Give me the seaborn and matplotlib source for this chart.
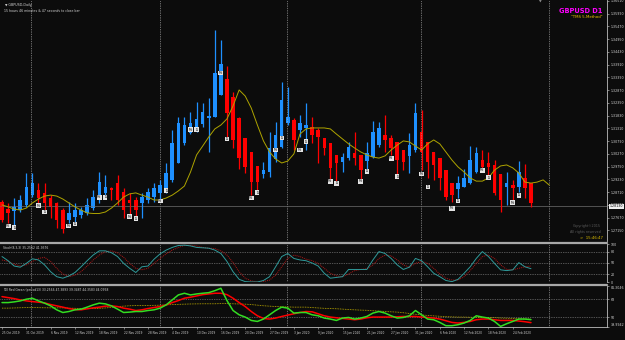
import matplotlib
matplotlib.use("Agg")
import matplotlib.pyplot as plt
import matplotlib.transforms as mtransforms
from matplotlib.lines import Line2D
import numpy as np
import pandas as pd
import seaborn as sns

# daily bars on the chart (broker has no bar on 25 Dec and 1 Jan)
dates = pd.bdate_range("2019-10-25", "2020-02-27")
dates = dates[~dates.isin(pd.to_datetime(["2019-12-25", "2020-01-01"]))]

# Heiken Ashi candles
ha_open = [1.2831, 1.2802, 1.2794, 1.2798, 1.2819, 1.2859, 1.2880, 1.2868, 1.2847, 1.2827,
           1.2798, 1.2757, 1.2770, 1.2778, 1.2786, 1.2806, 1.2859, 1.2868, 1.2888, 1.2908,
           1.2872, 1.2839, 1.2839, 1.2827, 1.2839, 1.2851, 1.2868, 1.2884, 1.2921, 1.2990,
           1.3072, 1.3112, 1.3125, 1.3149, 1.3174, 1.3178, 1.3267, 1.3333, 1.3259, 1.3174,
           1.3092, 1.3035, 1.2978, 1.2945, 1.2953, 1.3006, 1.3055, 1.3153, 1.3166, 1.3125,
           1.3133, 1.3137, 1.3125, 1.3092, 1.3072, 1.3023, 1.2994, 1.3010, 1.3031, 1.3023,
           1.2998, 1.3014, 1.3063, 1.3104, 1.3092, 1.3076, 1.3043, 1.3019, 1.3043, 1.3116,
           1.3076, 1.3035, 1.3010, 1.2961, 1.2908, 1.2884, 1.2892, 1.2908, 1.2953, 1.3002,
           1.2990, 1.2982, 1.2945, 1.2892, 1.2900, 1.2892, 1.2929, 1.2908]
ha_close = [1.2757, 1.2786, 1.2811, 1.2839, 1.2892, 1.2908, 1.2847, 1.2827, 1.2811, 1.2757,
            1.2721, 1.2786, 1.2798, 1.2798, 1.2819, 1.2851, 1.2912, 1.2892, 1.2880, 1.2839,
            1.2798, 1.2827, 1.2798, 1.2851, 1.2872, 1.2888, 1.2900, 1.2949, 1.3072, 1.3153,
            1.3145, 1.3153, 1.3170, 1.3198, 1.3182, 1.3357, 1.3394, 1.3194, 1.3084, 1.3010,
            1.2974, 1.2912, 1.2912, 1.2961, 1.3051, 1.3104, 1.3247, 1.3178, 1.3084, 1.3153,
            1.3145, 1.3104, 1.3096, 1.3051, 1.2970, 1.2990, 1.3014, 1.3055, 1.3010, 1.2961,
            1.3031, 1.3116, 1.3133, 1.3084, 1.3051, 1.3002, 1.2994, 1.3063, 1.3194, 1.3035,
            1.2994, 1.2982, 1.2929, 1.2851, 1.2859, 1.2908, 1.2929, 1.3002, 1.3031, 1.2974,
            1.2974, 1.2868, 1.2839, 1.2908, 1.2888, 1.2953, 1.2888, 1.2827]
ha_high = [1.2839, 1.2827, 1.2847, 1.2859, 1.2949, 1.2949, 1.2908, 1.2908, 1.2859, 1.2831,
           1.2806, 1.2831, 1.2827, 1.2811, 1.2847, 1.2880, 1.2953, 1.2941, 1.2892, 1.2941,
           1.2888, 1.2868, 1.2851, 1.2868, 1.2888, 1.2908, 1.2921, 1.2990, 1.3125, 1.3178,
           1.3178, 1.3198, 1.3239, 1.3235, 1.3255, 1.3533, 1.3492, 1.3386, 1.3280, 1.3178,
           1.3092, 1.3035, 1.2978, 1.2994, 1.3116, 1.3157, 1.3320, 1.3300, 1.3174, 1.3186,
           1.3235, 1.3178, 1.3133, 1.3092, 1.3072, 1.3023, 1.3031, 1.3076, 1.3116, 1.3023,
           1.3076, 1.3161, 1.3157, 1.3186, 1.3104, 1.3076, 1.3043, 1.3112, 1.3235, 1.3206,
           1.3076, 1.3035, 1.3010, 1.2961, 1.2908, 1.2937, 1.2966, 1.3059, 1.3055, 1.3043,
           1.3035, 1.3002, 1.2945, 1.2953, 1.2921, 1.2998, 1.2986, 1.2908]
ha_low = [1.2749, 1.2745, 1.2737, 1.2790, 1.2811, 1.2851, 1.2819, 1.2798, 1.2766, 1.2725,
          1.2704, 1.2745, 1.2745, 1.2766, 1.2778, 1.2798, 1.2827, 1.2859, 1.2839, 1.2819,
          1.2766, 1.2770, 1.2770, 1.2766, 1.2827, 1.2831, 1.2839, 1.2868, 1.2912, 1.2990,
          1.3063, 1.3108, 1.3116, 1.3137, 1.3035, 1.3178, 1.3267, 1.3096, 1.3051, 1.2966,
          1.2949, 1.2859, 1.2880, 1.2929, 1.2933, 1.2994, 1.3051, 1.3145, 1.3043, 1.3096,
          1.3043, 1.3072, 1.2990, 1.3023, 1.2921, 1.2912, 1.2953, 1.3002, 1.2982, 1.2921,
          1.2961, 1.3010, 1.3055, 1.3035, 1.3023, 1.2941, 1.2961, 1.2949, 1.3035, 1.2961,
          1.2929, 1.2921, 1.2880, 1.2839, 1.2831, 1.2847, 1.2892, 1.2904, 1.2949, 1.2961,
          1.2933, 1.2859, 1.2790, 1.2819, 1.2831, 1.2872, 1.2847, 1.2811]

# shifted moving average (runs a few bars past the last candle)
ma_line = [1.2819, 1.2811, 1.2802, 1.2798, 1.2806, 1.2827, 1.2843, 1.2855, 1.2859, 1.2855,
           1.2843, 1.2827, 1.2811, 1.2798, 1.2786, 1.2784, 1.2784, 1.2790, 1.2806, 1.2827,
           1.2851, 1.2864, 1.2868, 1.2859, 1.2851, 1.2839, 1.2839, 1.2847, 1.2859, 1.2876,
           1.2896, 1.2953, 1.3023, 1.3059, 1.3096, 1.3129, 1.3145, 1.3170, 1.3223, 1.3288,
           1.3263, 1.3214, 1.3145, 1.3080, 1.3035, 1.3006, 1.2990, 1.2998, 1.3027, 1.3108,
           1.3129, 1.3133, 1.3133, 1.3133, 1.3129, 1.3108, 1.3088, 1.3068, 1.3051, 1.3035,
           1.3023, 1.3014, 1.3010, 1.3019, 1.3043, 1.3063, 1.3080, 1.3076, 1.3059, 1.3043,
           1.3068, 1.3084, 1.3068, 1.3035, 1.3002, 1.2974, 1.2953, 1.2929, 1.2916, 1.2916,
           1.2929, 1.2961, 1.2978, 1.2982, 1.2970, 1.2949, 1.2912, 1.2908, 1.2912, 1.2921,
           1.2900]

# Monday / Tuesday markers under the candles
day_idx = [1, 2, 6, 7, 11, 12, 16, 17, 21, 22, 26, 27, 31, 32, 36, 37, 41, 42,
           45, 46, 49, 50, 54, 55, 59, 60, 64, 65, 69, 70, 74, 75, 79, 80, 84, 85]
day_txt = ["Mo", "Tu"] * 18
day_price = [1.2733, 1.2725, 1.2815, 1.2790, 1.2733, 1.2741, 1.2851, 1.2851, 1.2770, 1.2762,
             1.2835, 1.2876, 1.3125, 1.3125, 1.3357, 1.3088, 1.2847, 1.2868,
             1.3043, 1.3092, 1.3043, 1.3076, 1.2916, 1.2908, 1.2916, 1.2957, 1.3010, 1.2933,
             1.2945, 1.2892, 1.2806, 1.2835, 1.2961, 1.2929, 1.2827, 1.2859]

price_ticks = [1.36510, 1.35990, 1.35470, 1.34950, 1.34430, 1.33910, 1.33390, 1.32870,
               1.32350, 1.31830, 1.31310, 1.30790, 1.30270, 1.29750, 1.29230, 1.28710,
               1.28190, 1.27670, 1.27150]
bid = 1.28130

stoch_main = [67, 56, 42, 39, 49, 61, 58, 45, 27, 14,
              10, 16, 25, 40, 56, 71, 82, 82, 77, 67,
              49, 36, 25, 40, 42, 60, 74, 84, 91, 96,
              97, 95, 91, 90, 89, 84, 75, 54, 27, 7,
              1, 0, 0, 4, 14, 40, 67, 75, 62, 58,
              56, 50, 42, 23, 10, 12, 14, 33, 33, 33,
              33, 58, 80, 75, 62, 45, 33, 39, 62, 56,
              40, 23, 14, 4, 1, 7, 23, 40, 62, 80,
              67, 49, 32, 30, 32, 51, 40, 35]
stoch_signal = [58, 54, 47, 42, 45, 54, 62, 65, 54, 36,
                21, 14, 18, 27, 42, 58, 71, 80, 82, 77,
                65, 49, 36, 32, 36, 49, 62, 74, 84, 91,
                96, 96, 95, 91, 89, 88, 82, 71, 51, 27,
                10, 3, 0, 1, 5, 18, 40, 62, 71, 67,
                60, 56, 49, 36, 23, 16, 14, 21, 30, 33,
                35, 45, 62, 71, 69, 58, 45, 39, 49, 54,
                49, 36, 21, 10, 5, 5, 14, 30, 49, 67,
                71, 62, 45, 33, 32, 36, 40, 42]

tdi_green = [64.6, 64.6, 65.3, 66.3, 68.0, 69.0, 66.3, 64.0, 61.3, 57.3,
             54.6, 55.6, 57.3, 58.0, 60.0, 62.3, 64.0, 63.3, 61.3, 58.0,
             54.6, 55.0, 55.6, 55.6, 56.6, 57.3, 59.0, 62.3, 67.3, 72.3,
             74.0, 72.3, 73.3, 74.0, 74.6, 76.6, 79.0, 66.6, 56.6, 52.3,
             50.0, 46.6, 45.6, 48.0, 52.3, 56.6, 60.0, 59.0, 54.0, 54.6,
             54.6, 52.3, 51.3, 49.0, 48.0, 46.6, 49.0, 49.6, 48.0, 49.0,
             50.6, 54.0, 55.6, 54.0, 51.3, 49.0, 49.6, 51.3, 56.6, 52.3,
             48.0, 47.3, 44.6, 41.3, 41.3, 42.3, 44.0, 46.6, 51.3, 50.0,
             49.0, 45.6, 40.6, 43.3, 45.6, 48.0, 48.0, 47.4]
tdi_red = [70.6, 69.6, 68.6, 67.3, 66.3, 65.6, 65.0, 64.3, 62.6, 61.3,
           60.0, 58.6, 57.6, 57.3, 58.3, 59.3, 60.0, 61.0, 61.3, 60.6,
           59.0, 58.0, 56.6, 57.3, 58.6, 59.6, 60.6, 62.3, 64.6, 66.6,
           69.0, 70.0, 71.3, 72.6, 73.3, 74.0, 74.0, 72.6, 69.0, 64.6,
           60.6, 55.6, 51.3, 48.6, 48.0, 49.0, 50.6, 52.0, 53.3, 54.6,
           55.6, 55.3, 53.3, 51.3, 50.0, 49.3, 48.6, 48.0, 47.3, 48.0,
           49.3, 50.0, 50.0, 50.0, 50.0, 50.3, 50.6, 50.6, 50.6, 50.0,
           49.6, 49.0, 48.0, 46.3, 44.6, 44.0, 44.6, 45.6, 47.3, 48.0,
           48.0, 47.3, 46.6, 46.6, 46.6, 46.0, 45.3, 44.4]
tdi_base = [59.0, 59.0, 59.2, 59.4, 59.6, 59.6, 59.5, 59.4, 59.3, 59.3,
            59.3, 59.0, 58.8, 58.6, 58.6, 58.6, 58.8, 59.2, 59.8, 60.5,
            61.0, 61.4, 61.6, 61.6, 61.6, 61.8, 62.0, 62.3, 62.6, 62.8,
            63.0, 63.2, 63.3, 63.4, 63.4, 63.4, 63.6, 63.6, 63.4, 63.2,
            63.0, 62.6, 62.0, 61.4, 61.0, 60.6, 60.4, 60.2, 60.0, 60.0,
            60.0, 59.6, 59.2, 58.8, 58.6, 58.4, 58.0, 57.6, 57.3, 57.0,
            56.8, 56.4, 56.0, 55.6, 55.3, 55.0, 54.4, 53.6, 52.8, 52.2,
            51.6, 51.2, 50.8, 50.4, 50.2, 50.0, 50.0, 49.8, 49.8, 49.6,
            49.6, 49.4, 49.0, 48.8, 48.6, 48.3, 48.1, 48.0]

date_labels = ["2019-10-25", "2019-10-31", "2019-11-06", "2019-11-12", "2019-11-18",
               "2019-11-22", "2019-11-28", "2019-12-04", "2019-12-10", "2019-12-16",
               "2019-12-20", "2019-12-27", "2020-01-03", "2020-01-09", "2020-01-15",
               "2020-01-21", "2020-01-27", "2020-01-31", "2020-02-06", "2020-02-12",
               "2020-02-18", "2020-02-24"]
grid_idx = [4.8, 26, 46.9, 68.9, 90]

BG = "#0c0c0c"
FG = "#d4d4d4"
BLUE = "#1e90ff"
RED = "#ff0000"

sns.set_theme(style="dark", rc={"axes.facecolor": BG, "figure.facecolor": BG,
                                "savefig.facecolor": BG, "axes.edgecolor": "#bdbdbd",
                                "text.color": FG, "xtick.color": FG, "ytick.color": FG})
plt.rcParams["font.family"] = ["DejaVu Sans"]

W, H = 625, 340
fig = plt.figure(figsize=(W / 100, H / 100), dpi=100)


def box(y0, y1, x1=607):
    return [0, 1 - y1 / H, x1 / W, (y1 - y0) / H]


ax = fig.add_axes(box(0, 241))
ax_st = fig.add_axes(box(244, 282), sharex=ax)
ax_tdi = fig.add_axes(box(286, 327), sharex=ax)

for a in (ax, ax_st, ax_tdi):
    for s in ("left", "top", "bottom"):
        a.spines[s].set_visible(False)
    a.spines["right"].set_color("#bdbdbd")
    a.spines["right"].set_linewidth(0.6)
    a.yaxis.tick_right()
    a.tick_params(axis="y", length=1.5, width=0.4, labelsize=2.3, pad=1)
    a.tick_params(axis="x", length=0)
    for g in grid_idx:
        a.axvline(g, color="#c8c8c8", lw=0.5, ls=(0, (1, 1.5)))
ax_tdi.spines["bottom"].set_visible(True)
ax_tdi.spines["bottom"].set_color("#bdbdbd")
ax_tdi.spines["bottom"].set_linewidth(0.6)

# ---- price window
x = np.arange(len(ha_open))
o, c = np.array(ha_open), np.array(ha_close)
cols = np.where(c >= o, BLUE, RED)
ax.axhline(bid, color="#6e6e6e", lw=0.5)
ax.vlines(x, ha_low, ha_high, colors=cols, lw=0.9)
ax.bar(x, c - o, bottom=o, width=0.58, color=cols, linewidth=0)
sns.lineplot(x=np.arange(len(ma_line)), y=ma_line, ax=ax, color="#aea400", lw=0.7)
for i, t, p in zip(day_idx, day_txt, day_price):
    ax.text(i, p, t, ha="center", va="center", fontsize=2.2, color="#111111",
            bbox=dict(boxstyle="square,pad=0.15", fc="#e4e4e4", ec="none"))

ax.set_xlim(-0.33, 99.5)
ax.set_ylim(1.26717, 1.3655)
ax.set_yticks(price_ticks)
ax.set_yticklabels([f"{v:.5f}" for v in price_ticks])
ax.tick_params(axis="x", bottom=False, labelbottom=False)
ax.set_xlabel("")
ax.set_ylabel("")

trans = mtransforms.blended_transform_factory(ax.transAxes, ax.transData)
ax.text(1.004, bid, f"{bid:.5f}", transform=trans, ha="left", va="center", fontsize=2.3,
        color="#000000", bbox=dict(boxstyle="square,pad=0.25", fc="#f0f0f0", ec="none"),
        clip_on=False)

ax.text(0.008, 0.988, "▼ GBPUSD,Daily", transform=ax.transAxes, fontsize=2.3, va="top", color=FG)
ax.text(0.006, 0.962, "15 hours 46 minutes & 47 seconds to close bar", transform=ax.transAxes,
        fontsize=2.3, va="top", color=FG)
ax.text(0.993, 0.955, "GBPUSD D1", transform=ax.transAxes, fontsize=4.8, fontweight="bold",
        ha="right", va="center", color="#ff00ff")
ax.text(0.993, 0.928, '"TMS 5-Method"', transform=ax.transAxes, fontsize=2.8,
        ha="right", va="center", color="#f0c800")
ax.text(0.89, 1.0, "▼", transform=ax.transAxes, fontsize=2.5, ha="center", va="top", color="#909090")
ax.text(0.99, 0.062, "Copyright©2015", transform=ax.transAxes, fontsize=2.4,
        ha="right", va="center", color="#5a5a5a")
ax.text(0.99, 0.038, "All rights reserved", transform=ax.transAxes, fontsize=2.4,
        ha="right", va="center", color="#5a5a5a")
ax.text(0.993, 0.014, ">  15:46:47", transform=ax.transAxes, fontsize=2.8,
        ha="right", va="center", color="#e0c000")

# ---- stochastic window
xs = np.arange(len(stoch_main))
for lvl in (20, 50, 80):
    ax_st.axhline(lvl, color="#9a9a9a", lw=0.5, ls=(0, (1, 1.5)))
sns.lineplot(x=xs, y=stoch_signal, ax=ax_st, color="#b01818", lw=0.7, ls=(0, (1, 1)))
sns.lineplot(x=xs, y=stoch_main, ax=ax_st, color="#2f9a9a", lw=0.7)
ax_st.set_ylim(0, 100)
ax_st.set_yticks([0, 20, 50, 80, 100])
ax_st.tick_params(axis="x", bottom=False, labelbottom=False)
ax_st.set_xlabel("")
ax_st.set_ylabel("")
ax_st.text(0.005, 0.94, "Stoch(8,3,3) 35.2562 41.9376", transform=ax_st.transAxes,
           fontsize=2.2, va="top", color=FG)

# ---- TDI window
xt = np.arange(len(tdi_green))
for lvl in (50, 68):
    ax_tdi.axhline(lvl, color="#9a9a9a", lw=0.5, ls=(0, (1, 1.5)))
sns.lineplot(x=xt, y=tdi_base, ax=ax_tdi, color="#c8b400", lw=0.6, ls=(0, (1, 1)))
sns.lineplot(x=xt, y=tdi_red, ax=ax_tdi, color=RED, lw=1.1)
sns.lineplot(x=xt, y=tdi_green, ax=ax_tdi, color="#33dd22", lw=1.1)
ax_tdi.set_ylim(39.9942, 81.3046)
ax_tdi.set_yticks([39.9942, 50, 68, 81.3046])
ax_tdi.set_yticklabels(["39.9942", "50", "68", "81.3046"])
lab = ax_tdi.get_yticklabels()
lab[0].set_va("bottom")
lab[-1].set_va("top")
ax_tdi.set_xlabel("")
ax_tdi.set_ylabel("")
ax_tdi.text(0.005, 0.95, "TDI Red Green (period13) 33.2566 47.3893 39.3487 44.3583 44.0958",
            transform=ax_tdi.transAxes, fontsize=2.2, va="top", color=FG)

pos = [dates.get_loc(pd.Timestamp(d)) for d in date_labels]
ax_tdi.set_xticks(pos)
ax_tdi.set_xticklabels([pd.Timestamp(d).strftime("%-d %b %Y") for d in date_labels],
                       ha="left", fontsize=2.1)
ax_tdi.tick_params(axis="x", bottom=True, length=1.5, width=0.4, color="#bdbdbd", pad=1.5)
ax_tdi.set_xlim(-0.33, 99.5)

# window separators
for ysep in (242.5, 284.5):
    fig.add_artist(Line2D([0, 607 / W], [1 - ysep / H] * 2, color="#a8a8a8", lw=1.6))

fig.savefig("out.png", dpi=100, facecolor=BG)
